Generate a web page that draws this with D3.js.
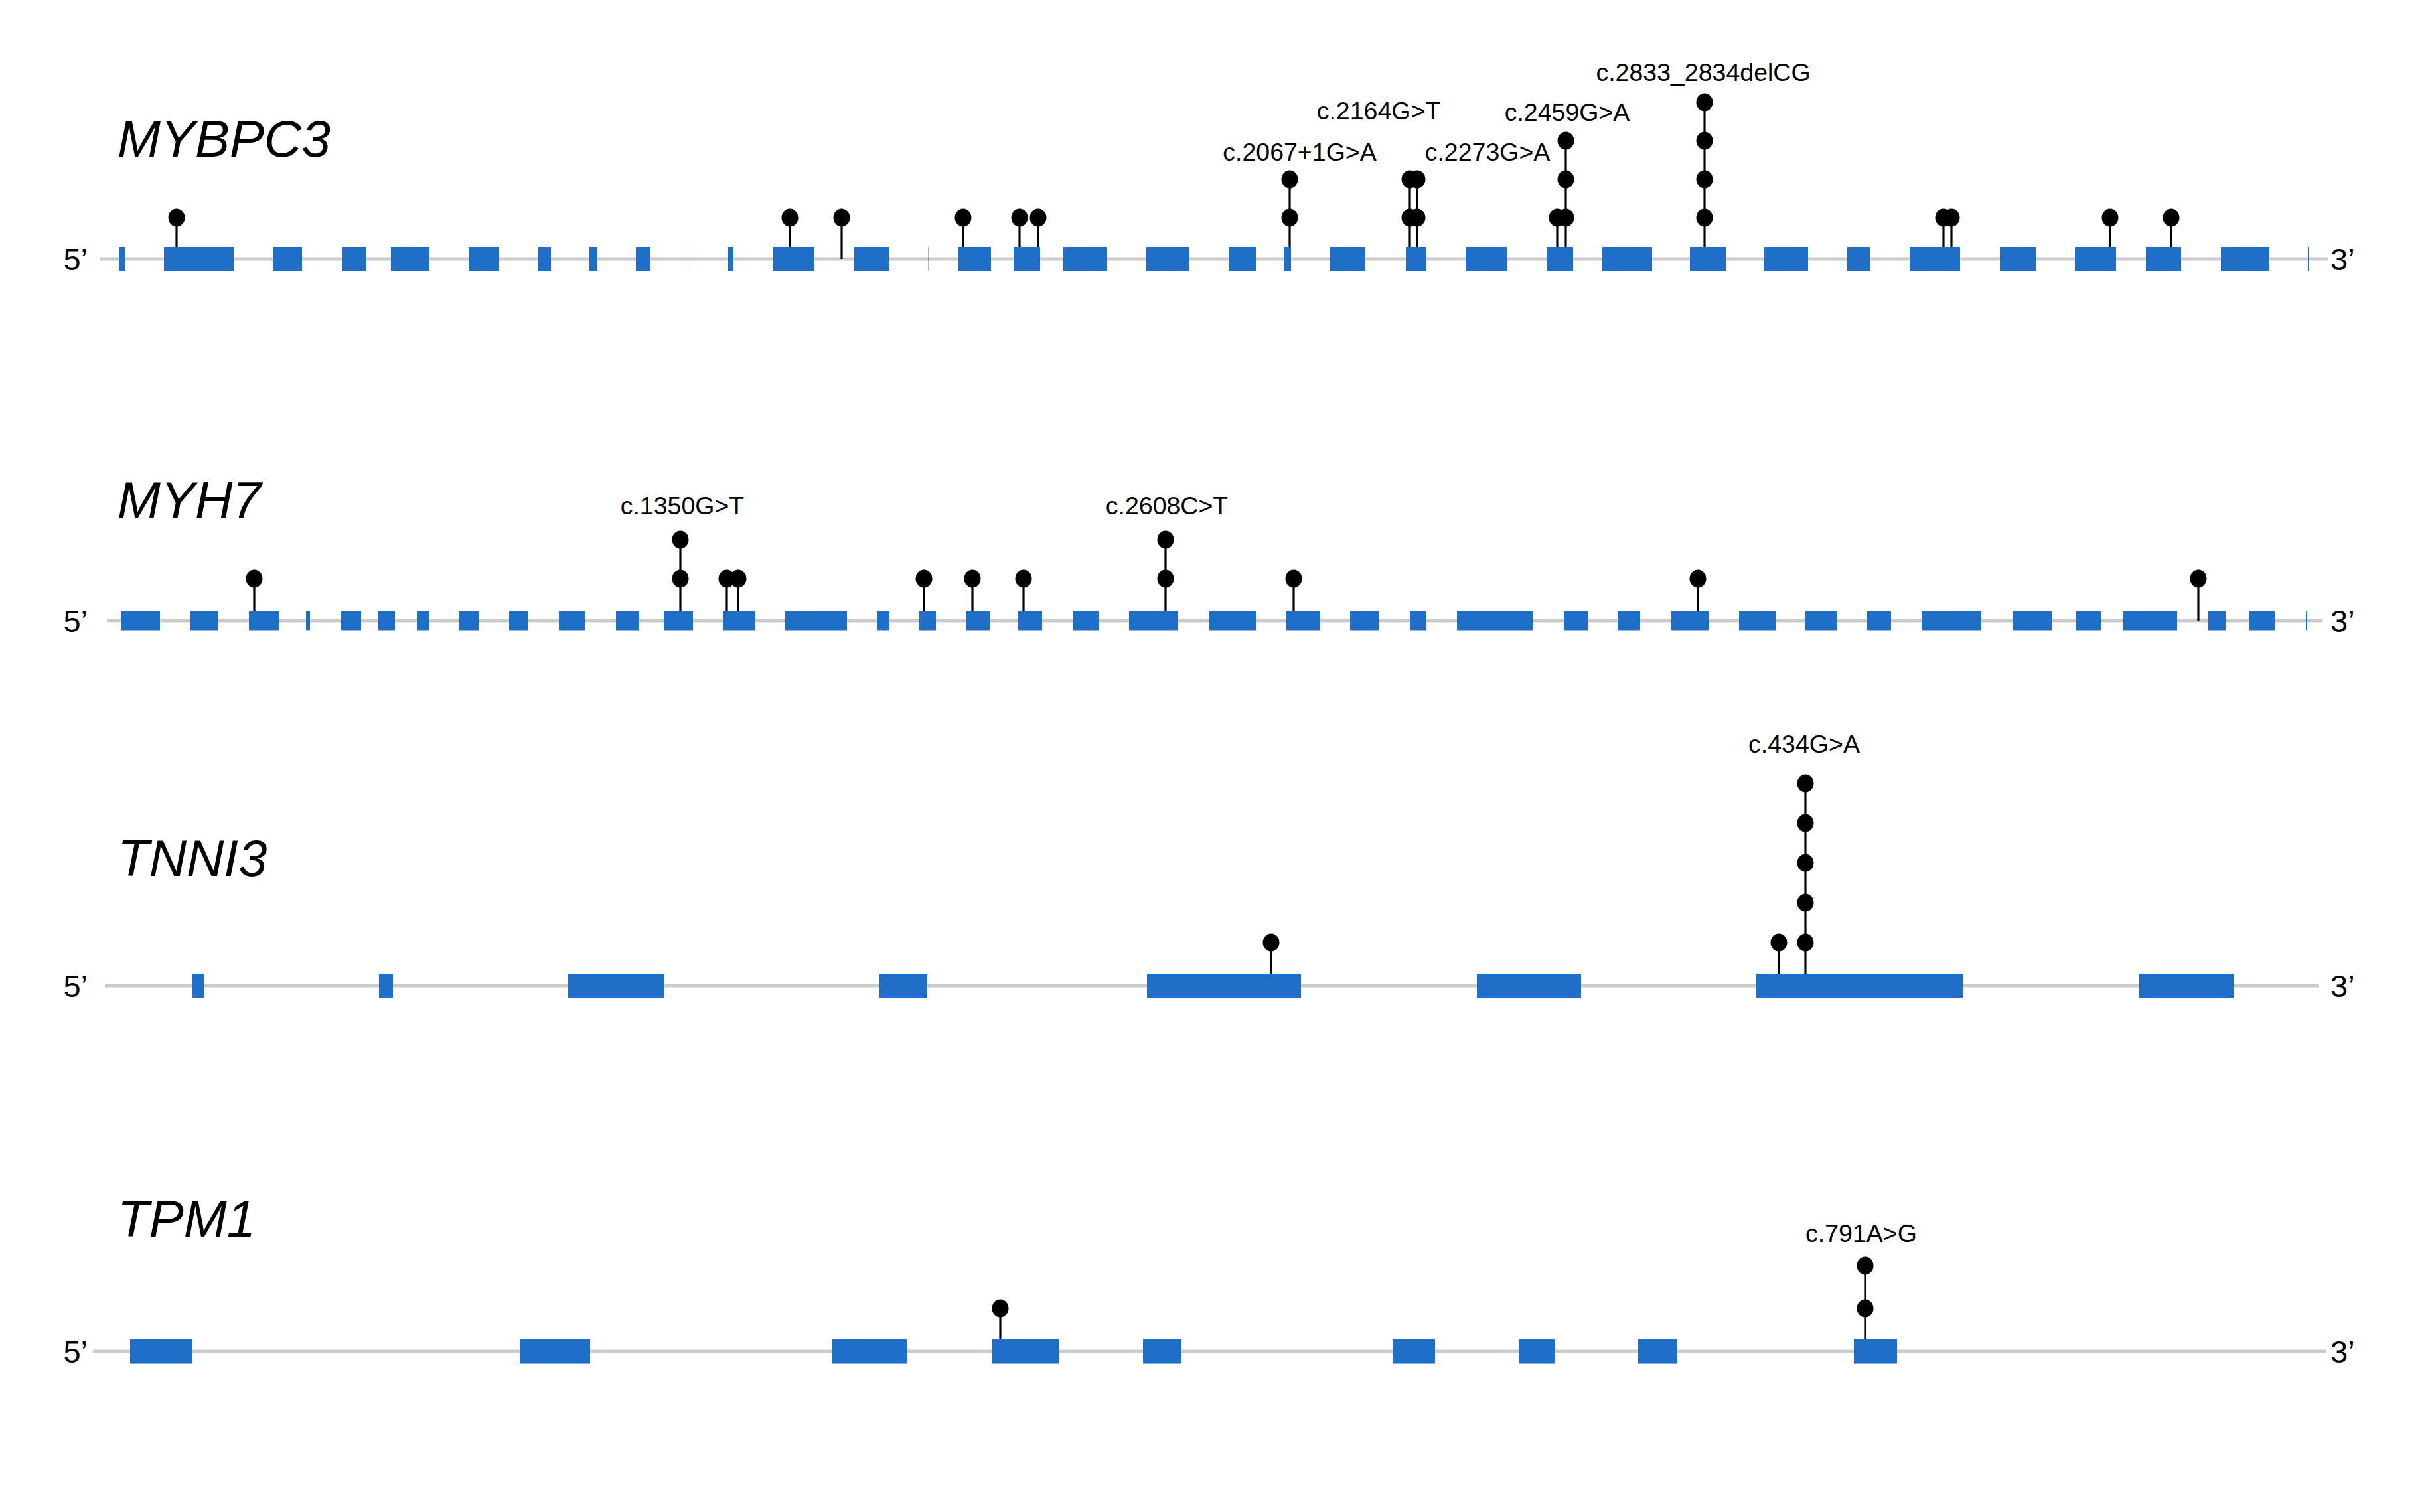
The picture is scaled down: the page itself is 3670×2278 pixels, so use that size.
<!DOCTYPE html>
<html><head><meta charset="utf-8">
<script src="https://cdn.jsdelivr.net/npm/d3@7"></script>
<style>html,body{margin:0;padding:0;background:#fff;} svg{display:block;}</style>
</head><body><div id="chart"></div>
<script>
// ---------------- DATA ----------------
const genes = ["MYBPC3", "MYH7", "TNNI3", "TPM1"];
// relative gene coordinates (track start / end)
const geneSpans = [[10, 3368], [21, 3359], [18, 3353], [0, 3365]];

const mybpc3Exons = [[39,48],[107,212],[271,315],[375,412],[449,507],[566,612],[671,690],[748,760],[818,840],[899,899.5],[957,965],[1025,1087],[1147,1199],[1258,1258.5],[1304,1353],[1387,1427],[1462,1528],[1587,1651],[1711,1752],[1794,1805],[1864,1917],[1978,2009],[2068,2130],[2190,2230],[2274,2349],[2406,2460],[2518,2584],[2643,2677],[2737,2813],[2873,2927],[2986,3048],[3093,3146],[3206,3279],[3337,3339]];
const myh7Exons = [[42,101],[147,189],[235,280],[321,327],[374,404],[430,455],[488,506],[552,581],[627,655],[702,741],[788,823],[860,904],[949,998],[1043,1136],[1181,1200],[1245,1270],[1316,1351],[1394,1430],[1476,1515],[1561,1635],[1682,1753],[1798,1849],[1894,1937],[1984,2009],[2055,2169],[2216,2252],[2297,2331],[2378,2434],[2480,2535],[2579,2627],[2673,2709],[2755,2845],[2892,2951],[2988,3025],[3059,3140],[3187,3213],[3248,3287],[3334,3336]];
const tnni3Exons = [[150,167],[431,452],[716,861],[1185,1257],[1588,1820],[2085,2242],[2506,2817],[3083,3225]];
const tpm1Exons = [[56,150],[643,749],[1114,1226],[1355,1455],[1582,1640],[1958,2022],[2148,2202],[2328,2387],[2653,2718]];

const mybpc3VariantPos   = [126,1050,1128,1311,1396,1424,1803,1984,1995,2206,2219,2428,2788,2800,3039,3131];
const mybpc3VariantCount = [1,1,1,1,1,1,2,2,2,1,3,4,1,1,1,1];
const mybpc3VariantLabel = [null,null,null,null,null,null,"c.2067+1G>A","c.2164G>T","c.2273G>A",null,"c.2459G>A","c.2833_2834delCG",null,null,null,null];

const myh7VariantPos   = [243,885,955,972,1252,1325,1402,1616,1809,2418,3172];
const myh7VariantCount = [1,2,1,1,1,1,1,2,1,1,1];
const myh7VariantLabel = [null,"c.1350G>T",null,null,null,null,null,"c.2608C>T",null,null,null];

const tnni3VariantPos   = [1775,2540,2580];
const tnni3VariantCount = [1,1,5];
const tnni3VariantLabel = [null,null,"c.434G>A"];

const tpm1VariantPos   = [1367,2670];
const tpm1VariantCount = [1,2];
const tpm1VariantLabel = [null,"c.791A>G"];

const endLabels = ["5’", "3’"];

// ---------------- LAYOUT ----------------
const W = 3670, H = 2278;
const trackY = [390, 935, 1485, 2036];
const titleY = [236, 780, 1320, 1863];
const exonH = [36, 29, 36, 37];
const levelFirst = [62, 63, 65, 65];
const levelGap = [58, 59, 60, 64];
const labelNudge = {
  "c.2067+1G>A": [15, -28],
  "c.2164G>T": [-47, -90],
  "c.2273G>A": [106, -28],
  "c.2459G>A": [2, -30],
  "c.2833_2834delCG": [-2, -32],
  "c.1350G>T": [3, -38],
  "c.2608C>T": [2, -38],
  "c.434G>A": [-2, -46],
  "c.791A>G": [-6, -36]
};
const exonColor = "#1f6fc8";
const lineColor = "#cbcbcb";
const fontFam = "'Liberation Sans', Arial, Helvetica, sans-serif";

const geneData = [
  {exons: mybpc3Exons, pos: mybpc3VariantPos, count: mybpc3VariantCount, label: mybpc3VariantLabel},
  {exons: myh7Exons, pos: myh7VariantPos, count: myh7VariantCount, label: myh7VariantLabel},
  {exons: tnni3Exons, pos: tnni3VariantPos, count: tnni3VariantCount, label: tnni3VariantLabel},
  {exons: tpm1Exons, pos: tpm1VariantPos, count: tpm1VariantCount, label: tpm1VariantLabel}
];

const x = d3.scaleLinear().domain([0, 3370]).range([140, 3510]);

const svg = d3.select("#chart").append("svg")
  .attr("width", W).attr("height", H)
  .style("background", "#fff");

genes.forEach((gene, gi) => {
  const d = geneData[gi];
  const ty = trackY[gi];
  const y = d3.scaleLinear().domain([1, 2]).range([ty - levelFirst[gi], ty - levelFirst[gi] - levelGap[gi]]);
  const g = svg.append("g").attr("class", "gene");

  // title
  g.append("text")
    .attr("x", 177).attr("y", titleY[gi])
    .attr("font-family", fontFam).attr("font-style", "italic")
    .attr("font-size", 78).attr("fill", "#000")
    .text(gene);

  // 5' / 3'
  g.append("text").attr("x", 132).attr("y", ty + 17)
    .attr("text-anchor", "end").attr("font-family", fontFam)
    .attr("font-size", 47).text(endLabels[0]);
  g.append("text").attr("x", 3511).attr("y", ty + 17)
    .attr("text-anchor", "start").attr("font-family", fontFam)
    .attr("font-size", 47).text(endLabels[1]);

  // backbone line
  g.append("line")
    .attr("x1", x(geneSpans[gi][0])).attr("x2", x(geneSpans[gi][1]))
    .attr("y1", ty).attr("y2", ty)
    .attr("stroke", lineColor).attr("stroke-width", 5);

  const variants = d.pos.map((p, i) => ({pos: p, count: d.count[i], label: d.label[i]}));

  // stems
  g.selectAll("line.stem").data(variants).enter().append("line")
    .attr("class", "stem")
    .attr("x1", v => x(v.pos)).attr("x2", v => x(v.pos))
    .attr("y1", ty).attr("y2", v => y(v.count))
    .attr("stroke", "#000").attr("stroke-width", 3.2);

  // exons
  g.selectAll("rect.exon").data(d.exons).enter().append("rect")
    .attr("class", "exon")
    .attr("x", e => x(e[0]))
    .attr("width", e => Math.max(0.4, x(e[1]) - x(e[0])))
    .attr("y", ty - exonH[gi] / 2)
    .attr("height", exonH[gi])
    .attr("fill", exonColor);

  // heads
  const heads = [];
  variants.forEach(v => { for (let k = 1; k <= v.count; k++) heads.push({pos: v.pos, level: k}); });
  g.selectAll("ellipse.head").data(heads).enter().append("ellipse")
    .attr("class", "head")
    .attr("cx", h => x(h.pos)).attr("cy", h => y(h.level))
    .attr("rx", 12.5).attr("ry", 13.5)
    .attr("fill", "#000");

  // labels
  g.selectAll("text.vlabel").data(variants.filter(v => v.label)).enter().append("text")
    .attr("class", "vlabel")
    .attr("x", v => x(v.pos) + labelNudge[v.label][0])
    .attr("y", v => y(v.count) + labelNudge[v.label][1])
    .attr("text-anchor", "middle")
    .attr("font-family", fontFam).attr("font-size", 37.5).attr("fill", "#000")
    .text(v => v.label);
});
</script>
</body></html>
